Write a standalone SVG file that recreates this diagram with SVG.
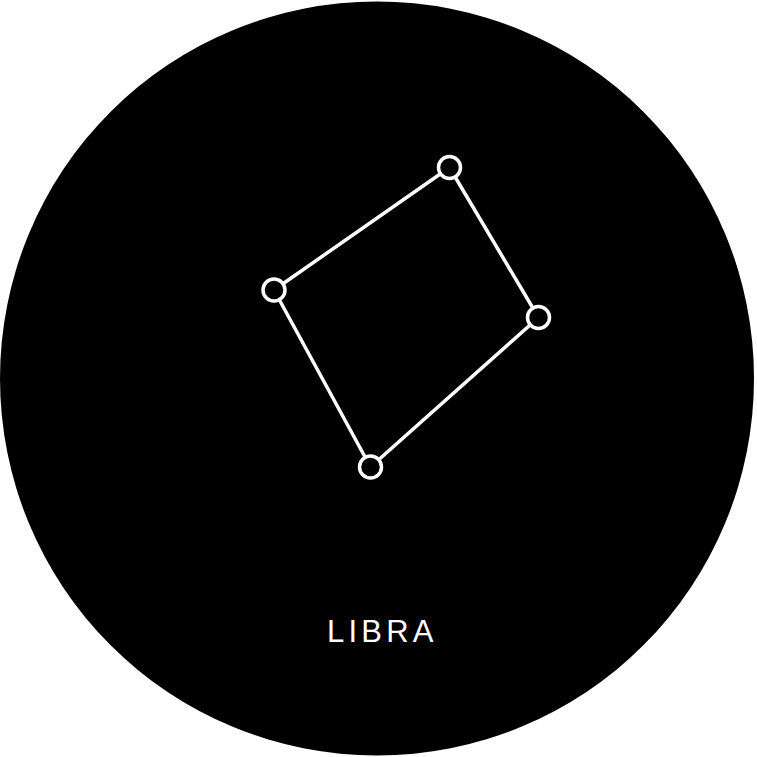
<svg xmlns="http://www.w3.org/2000/svg" width="757" height="757" viewBox="0 0 757 757">
<style>
.edge{stroke:#fff;stroke-width:3.5;fill:none;stroke-linecap:round}
.star{fill:#000;stroke:#fff;stroke-width:3.5}
.label{fill:#fff;font-family:"Liberation Sans",Arial,sans-serif;font-size:31px;letter-spacing:4.2px}
</style>
<rect width="757" height="757" fill="#fff"/>
<circle id="sky" cx="377" cy="378.5" r="377" fill="#000"/>
<g id="connectors">
<line class="edge" x1="449.5" y1="167.5" x2="274" y2="290"/>
<line class="edge" x1="449.5" y1="167.5" x2="538.5" y2="317.5"/>
<line class="edge" x1="274" y1="290" x2="370.5" y2="467"/>
<line class="edge" x1="538.5" y1="317.5" x2="370.5" y2="467"/>
</g>
<g id="star1"><circle class="star" cx="449.5" cy="167.5" r="11"/></g>
<g id="star2"><circle class="star" cx="274" cy="290" r="11"/></g>
<g id="star3"><circle class="star" cx="538.5" cy="317.5" r="11"/></g>
<g id="star4"><circle class="star" cx="370.5" cy="467" r="11"/></g>
<g id="title"><text class="label" x="327" y="642">LIBRA</text></g>
</svg>
